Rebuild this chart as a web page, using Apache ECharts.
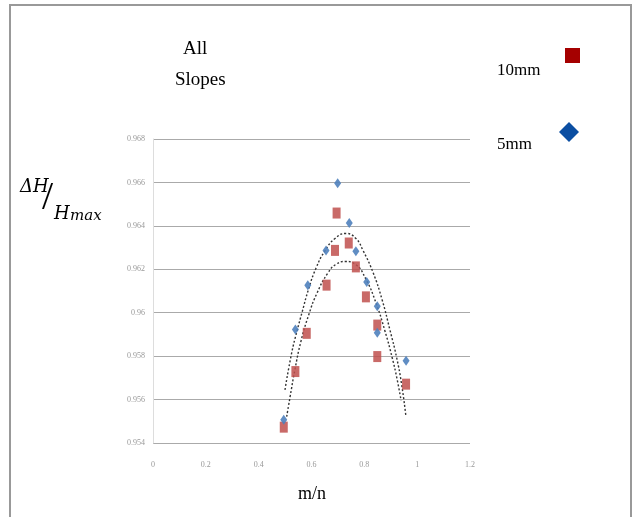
<!DOCTYPE html>
<html>
<head>
<meta charset="utf-8">
<script src="https://cdn.jsdelivr.net/npm/echarts@6/dist/echarts.min.js"></script>
<style>
  html, body { margin: 0; padding: 0; background: #fff; }
  #chart { width: 636px; height: 517px; }
</style>
</head>
<body>
<div id="chart"></div>
<script>
// x ticks 0..1.2, y ticks 0.954..0.968
var xTicks = [0, 0.2, 0.4, 0.6, 0.8, 1, 1.2]
var yTicks = [0.954, 0.956, 0.958, 0.96, 0.962, 0.964, 0.966, 0.968]

// 5mm points (blue diamonds)
var fiveMm = [
  [0.699, 0.96596], [0.743, 0.96413], [0.655, 0.96287], [0.768, 0.96283],
  [0.586, 0.96127], [0.809, 0.96142], [0.849, 0.9603], [0.539, 0.95923],
  [0.849, 0.95908], [0.958, 0.95779], [0.495, 0.95507]
]
// 10mm points (red squares)
var tenMm = [
  [0.695, 0.96459], [0.689, 0.96287], [0.741, 0.96321], [0.768, 0.96211],
  [0.657, 0.96127], [0.806, 0.96073], [0.582, 0.95905], [0.849, 0.95943],
  [0.849, 0.95798], [0.539, 0.95729], [0.958, 0.95671], [0.495, 0.95473]
]
// trend lines
var trendFive = [
  [0.4996, 0.95645], [0.525, 0.95815], [0.545, 0.95915], [0.565, 0.96005],
  [0.588, 0.96105], [0.617, 0.96205], [0.651, 0.96285], [0.689, 0.96342],
  [0.731, 0.96365], [0.768, 0.96342], [0.795, 0.96287], [0.833, 0.96185],
  [0.867, 0.96061], [0.897, 0.9592], [0.922, 0.95795], [0.941, 0.95671],
  [0.957, 0.95527]
]
var trendTen = [
  [0.506, 0.95521], [0.519, 0.95613], [0.537, 0.95736], [0.560, 0.95868],
  [0.590, 0.95992], [0.620, 0.96088], [0.662, 0.96183], [0.693, 0.96223],
  [0.728, 0.96236], [0.766, 0.96223], [0.805, 0.96157], [0.845, 0.96042],
  [0.878, 0.95916], [0.905, 0.95795], [0.924, 0.95694], [0.939, 0.95596]
]

var chart = echarts.init(document.getElementById('chart'))
var serif = 'Liberation Serif, DejaVu Serif, serif'
var mathFont = 'DejaVu Serif, serif'
var trendStyle = { color: '#333', width: 1.4, type: [2, 2] }

chart.setOption({
  backgroundColor: '#fff',
  animation: false,
  grid: { left: 153, right: 166, top: 139, bottom: 74 },
  xAxis: {
    type: 'value',
    min: xTicks[0],
    max: xTicks[xTicks.length - 1],
    interval: 0.2,
    axisLine: { show: false },
    axisTick: { show: false },
    splitLine: { show: false },
    axisLabel: { color: '#999', fontSize: 8, margin: 18, fontFamily: serif }
  },
  yAxis: {
    type: 'value',
    min: yTicks[0],
    max: yTicks[yTicks.length - 1],
    interval: 0.002,
    axisLine: { show: true, lineStyle: { color: '#ddd', width: 1 } },
    axisTick: { show: false },
    splitLine: { show: true, lineStyle: { color: '#aaa', width: 1 } },
    axisLabel: { color: '#999', fontSize: 8, margin: 8, fontFamily: serif }
  },
  series: [
    {
      name: 'trend 5mm', type: 'line', data: trendFive, smooth: true,
      showSymbol: false, lineStyle: trendStyle, z: 3
    },
    {
      name: 'trend 10mm', type: 'line', data: trendTen, smooth: true,
      showSymbol: false, lineStyle: trendStyle, z: 3
    },
    {
      name: '10mm', type: 'scatter', data: tenMm, symbol: 'rect', symbolSize: [8, 11],
      itemStyle: { color: '#c0504d', opacity: 0.85 }, z: 4
    },
    {
      name: '5mm', type: 'scatter', data: fiveMm, symbol: 'diamond', symbolSize: [7, 10],
      itemStyle: { color: '#4f81bd', opacity: 0.9 }, z: 5
    }
  ],
  graphic: [
    { type: 'rect', shape: { x: 10, y: 5, width: 621, height: 520 },
      style: { fill: null, stroke: '#999', lineWidth: 2 }, silent: true },
    { type: 'text', left: 183, top: 40, style: { text: 'All', font: '19px ' + serif, fill: '#000' } },
    { type: 'text', left: 175, top: 71, style: { text: 'Slopes', font: '19px ' + serif, fill: '#000' } },
    { type: 'text', left: 497, top: 62, style: { text: '10mm', font: '17px ' + serif, fill: '#000' } },
    { type: 'rect', shape: { x: 565, y: 48, width: 15, height: 15 }, style: { fill: '#a50000' } },
    { type: 'text', left: 497, top: 136, style: { text: '5mm', font: '17px ' + serif, fill: '#000' } },
    { type: 'polygon', shape: { points: [[569, 122], [579, 132], [569, 142], [559, 132]] }, style: { fill: '#0b4ea2' } },
    { type: 'text', left: 298, top: 485, style: { text: 'm/n', font: '18px ' + serif, fill: '#000' } },
    { type: 'text', left: 20, top: 178, style: { text: 'ΔH', font: 'italic 18px ' + mathFont, fill: '#000' } },
    { type: 'text', left: 42, top: 178, style: { text: '/', font: '40px ' + serif, fill: '#000' } },
    { type: 'text', left: 54, top: 205, style: { text: 'H', font: 'italic 18px ' + mathFont, fill: '#000' } },
    { type: 'text', left: 70, top: 209, style: { text: 'max', font: 'italic 15px ' + mathFont, fill: '#000' } }
  ]
})
</script>
</body>
</html>
